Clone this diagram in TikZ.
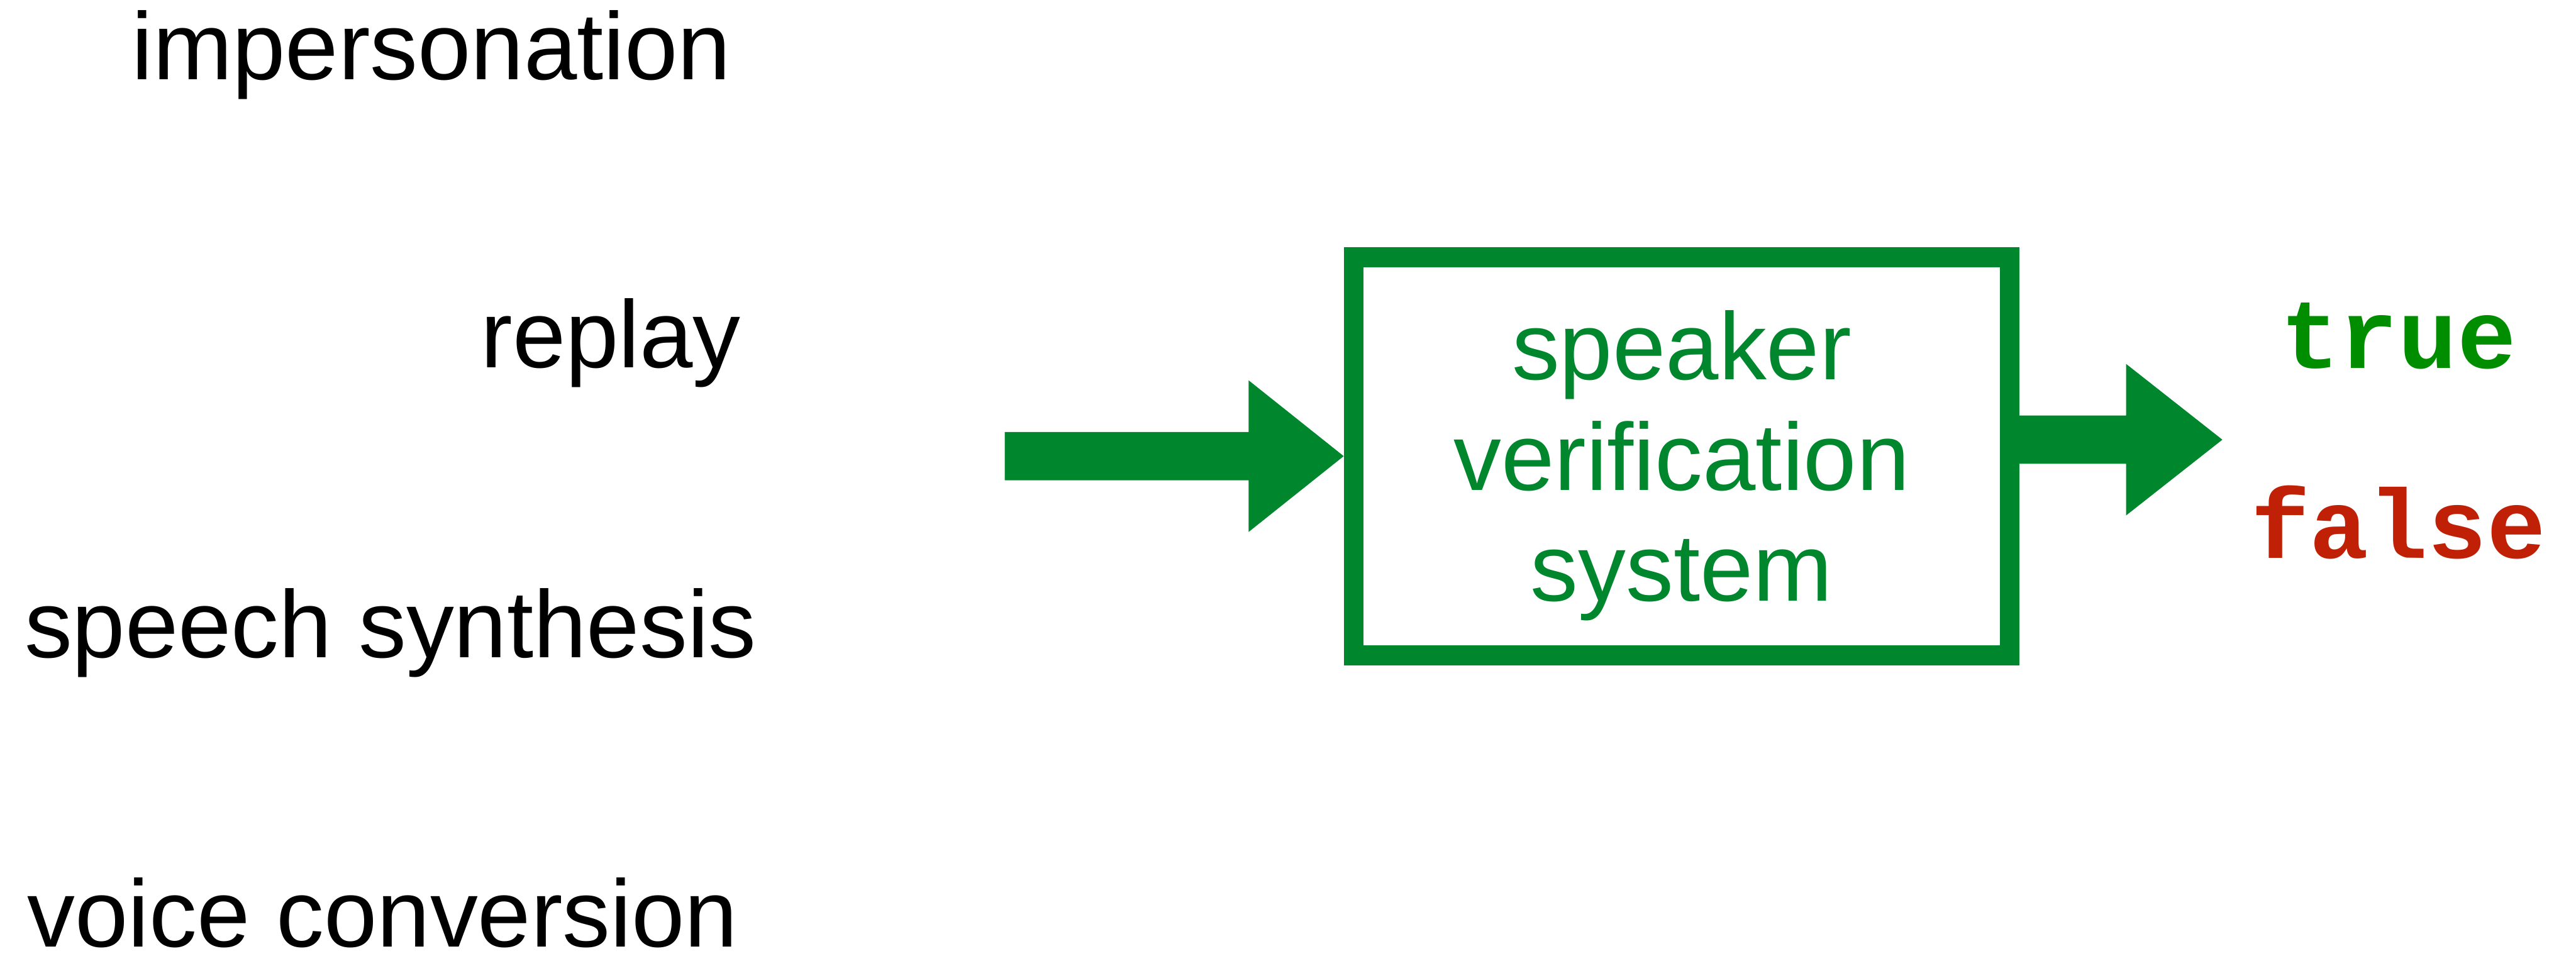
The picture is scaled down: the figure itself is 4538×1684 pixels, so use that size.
\documentclass[tikz,border=0pt]{standalone}
\usepackage{fontspec}
\setmainfont{Liberation Sans}
\newfontfamily\codefont{Liberation Mono}
\usetikzlibrary{calc}
\definecolor{boxgreen}{RGB}{0,135,45}
\definecolor{truegreen}{RGB}{0,142,0}
\definecolor{falsered}{RGB}{192,32,5}
\tikzset{
  attack/.style={anchor=base, inner sep=0pt, font=\fontsize{47.8}{57}\selectfont, text=black},
  svsbox/.style={draw=boxgreen, line width=0.35cm, minimum width=11.55cm, minimum height=7.01cm, inner sep=0pt},
  svstext/.style={inner sep=0pt, align=center, text=boxgreen, font=\fontsize{47.8}{55.5}\selectfont},
  verdict/.style={anchor=base, inner sep=0pt, font=\codefont\bfseries\fontsize{49.2}{59}\selectfont},
  bigarrow/.style={fill=boxgreen}
}
\begin{document}
\begin{tikzpicture}[x=0.01cm,y=-0.01cm]
\useasboundingbox (0,0) rectangle (4538,1684);
% attack labels
\node[attack] (imp) at (760,140) {impersonation};
\node[attack] (rep) at (1076,648) {replay};
\node[attack] (syn) at (688,1158) {speech synthesis};
\node[attack] (vc) at (674,1668) {voice conversion};
% system box
\node[svsbox] (svs) at (2962.5,803.5) {};
\node[svstext] (svslabel) at (2962.5,820) {speaker\\verification\\system};
% input arrow (svs.west is the outer edge of the frame)
\coordinate (inL) at (1770,803.5);
\fill[bigarrow] ($(inL)+(0,-42.5)$) -- ($(svs.west)+(-167.5,-42.5)$) -- ($(svs.west)+(-167.5,-133.5)$)
  -- (svs.west) -- ($(svs.west)+(-167.5,133.5)$) -- ($(svs.west)+(-167.5,42.5)$)
  -- ($(inL)+(0,42.5)$) -- cycle;
% output arrow
\coordinate (outR) at (3915,774.5);
\fill[bigarrow] ($(svs.east |- outR)+(-20,-42.5)$) -- ($(svs.east |- outR)+(187.5,-42.5)$) -- ($(svs.east |- outR)+(187.5,-133.5)$)
  -- (outR) -- ($(svs.east |- outR)+(187.5,133.5)$) -- ($(svs.east |- outR)+(187.5,42.5)$)
  -- ($(svs.east |- outR)+(-20,42.5)$) -- cycle;
% verdicts
\node[verdict, text=truegreen] (true) at (4225,649) {true};
\node[verdict, text=falsered] (false) at (4225,983) {false};
\end{tikzpicture}
\end{document}
